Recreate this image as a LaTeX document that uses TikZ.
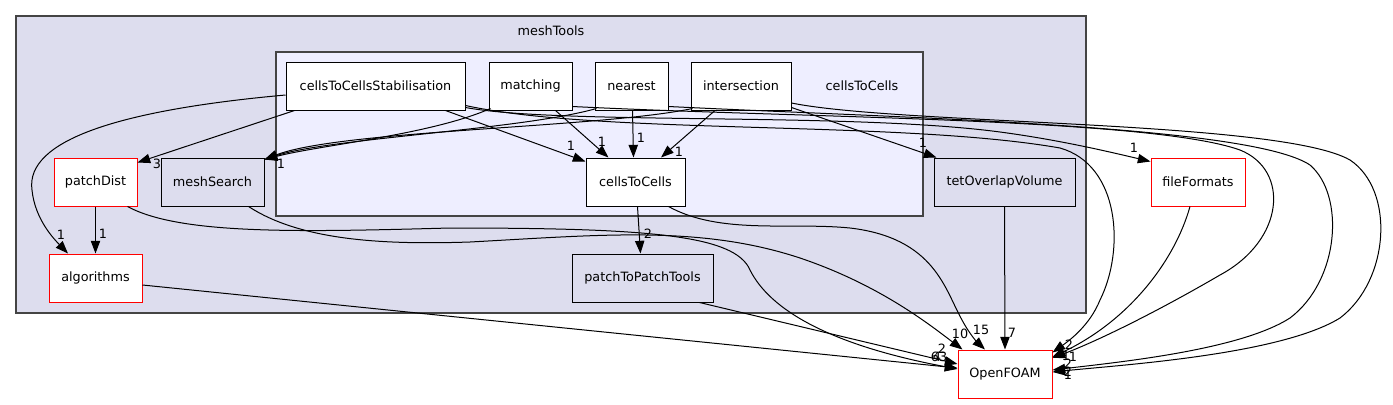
\documentclass[tikz,border=0pt]{standalone}
\usepackage{fontspec}
\setmainfont{DejaVu Sans}
\usetikzlibrary{arrows.meta,calc}
\definecolor{clustercolor}{HTML}{DDDDEE}
\definecolor{subcolor}{HTML}{EEEEFF}
\definecolor{framecolor}{HTML}{444444}
\definecolor{extcolor}{HTML}{FF0000}
\newcommand{\dirfont}{\fontsize{9.6}{11}\selectfont}
\tikzset{
  clusterbox/.style={draw=framecolor, line width=0.9pt},
  dirbox/.style={draw=black, fill=white, line width=0.75pt, minimum height=36pt,
    minimum width=#1*0.75pt, inner sep=0pt, font=\dirfont},
  greybox/.style={dirbox=#1, fill=clustercolor},
  redbox/.style={dirbox=#1, draw=extcolor},
  depln/.style={-{Triangle[length=9.5pt,width=7pt]}, line width=0.75pt},
  cntlbl/.style={font=\dirfont, inner sep=0pt},
}

\begin{document}
\begin{tikzpicture}[x=0.75pt, y=-0.75pt]
    \useasboundingbox (0,0) rectangle (1393,404);
    % clusters
    \draw[clusterbox, fill=clustercolor] (16,16) rectangle (1086,313);
    \node[font=\dirfont] (meshtoolslbl) at (551,31) {meshTools};
    \draw[clusterbox, fill=subcolor] (276,52) rectangle (923,216);
    \node[font=\dirfont] (subdirlbl) at (862,86) {cellsToCells};
    % directories
    \node[dirbox=179] (cts) at (375.5,86) {cellsToCellsStabilisation};
    \node[dirbox=83] (mt) at (530.5,86) {matching};
    \node[dirbox=73] (nr) at (631.5,86) {nearest};
    \node[dirbox=100] (is) at (741,86) {intersection};
    \node[dirbox=99] (ctc) at (635.5,182) {cellsToCells};
    \node[redbox=83] (pd) at (95.5,182) {patchDist};
    \node[greybox=103] (ms) at (212.5,182) {meshSearch};
    \node[greybox=141] (to) at (1004.5,182) {tetOverlapVolume};
    \node[redbox=94] (ff) at (1198,182) {fileFormats};
    \node[redbox=93] (alg) at (95.5,278) {algorithms};
    \node[greybox=141] (ptp) at (642.5,278) {patchToPatchTools};
    \node[redbox=94] (of) at (1005,374) {OpenFOAM};
    % cellsToCellsStabilisation
    \draw[depln] ($(cts.west)+(0,9)$) .. controls (120,110) and (25,140) .. (32,190)
      .. controls (35,220) and (55,240) .. ($(alg.north)+(-27.5,0)$);
    \draw[depln] ($(cts.south west)+(9,0)$) -- ($(pd.north east)+(0,5)$);
    \draw[depln] ($(cts.south)+(70,0)$) -- ($(ctc.north west)+(0,4)$);
    \draw[depln] ($(cts.south east)+(0,-3)$) .. controls (560,125) and (850,112) .. (1000,132)
      .. controls (1060,140) and (1110,152) .. ($(ff.north west)+(0,4)$);
    \draw[depln] ($(cts.south east)+(0,-5)$) .. controls (600,135) and (900,120) .. (1060,148)
      .. controls (1120,165) and (1125,250) .. (1100,300)
      .. controls (1090,325) and (1070,340) .. ($(of.north east)+(0,3)$);
    % matching
    \draw[depln] ($(mt.south west)+(2,-2)$) .. controls (430,135) and (320,145) .. ($(ms.north east)+(0,2)$);
    \draw[depln] ($(mt.south)+(25,0)$) -- ($(ctc.north)+(-27,0)$);
    \draw[depln] ($(mt.south east)+(0,-4)$) .. controls (800,118) and (1150,118) .. (1240,150)
      .. controls (1290,170) and (1285,240) .. (1220,275)
      .. controls (1160,310) and (1100,340) .. ($(of.east)+(0,-16)$);
    % nearest
    \draw[depln] ($(nr.south west)+(2,-2)$) .. controls (520,130) and (330,138) .. ($(ms.north east)+(0,2)$);
    \draw[depln] ($(nr.south)+(1,0)$) -- ($(ctc.north)+(-2,0)$);
    \draw[depln] ($(nr.south east)+(0,-4)$) .. controls (900,118) and (1250,125) .. (1310,165)
      .. controls (1345,195) and (1340,280) .. (1290,318)
      .. controls (1240,350) and (1120,362) .. ($(of.east)+(0,-4)$);
    % intersection
    \draw[depln] ($(is.south west)+(2,-2)$) .. controls (600,128) and (340,130) .. ($(ms.north east)+(0,2)$);
    \draw[depln] ($(is.south)+(-26,0)$) -- ($(ctc.north)+(25.5,0)$);
    \draw[depln] ($(is.south east)+(0,-3)$) -- ($(to.north west)+(3,0)$);
    \draw[depln] ($(is.east)+(0,17)$) .. controls (900,125) and (1280,120) .. (1350,160)
      .. controls (1395,190) and (1390,280) .. (1340,318)
      .. controls (1280,355) and (1120,365) .. ($(of.east)+(0,-2)$);
    % others
    \draw[depln] (pd.south) -- (alg.north);
    \draw[depln] ($(pd.south east)+(-10,0)$) .. controls (180,235) and (300,232) .. (450,228)
      .. controls (650,228) and (735,235) .. (750,270)
      .. controls (770,310) and (830,345) .. ($(of.west)+(0,-5)$);
    \draw[depln] ($(ms.south east)+(-16,0)$) .. controls (300,240) and (380,245) .. (470,242)
      .. controls (600,235) and (700,225) .. (800,258)
      .. controls (880,285) and (930,325) .. ($(of.north west)+(5,0)$);
    \draw[depln] ($(ctc.south)+(2,0)$) -- ($(ptp.north)+(-2,0)$);
    \draw[depln] ($(ctc.south east)+(-17,0)$) .. controls (720,235) and (790,222) .. (850,228)
      .. controls (935,238) and (945,290) .. (962,320)
      .. controls (970,335) and (978,343) .. ($(of.north)+(-20,0)$);
    \draw[depln] (to.south) -- (of.north);
    \draw[depln] ($(ff.south)+(-8,0)$) .. controls (1175,260) and (1130,320) .. ($(of.east)+(0,-17)$);
    \draw[depln] ($(alg.east)+(0,7)$) -- ($(of.west)+(0,-6)$);
    \draw[depln] ($(ptp.south east)+(-14,0)$) -- ($(of.west)+(0,-10)$);
    % counts
    \node[cntlbl] (l1) at (61,235) {1};
    \node[cntlbl] (l2) at (157,164) {3};
    \node[cntlbl] (l3) at (571,146) {1};
    \node[cntlbl] (l4) at (1134,148) {1};
    \node[cntlbl] (l5) at (281,164) {1};
    \node[cntlbl] (l6) at (602,142) {1};
    \node[cntlbl] (l7) at (641,138) {1};
    \node[cntlbl] (l8) at (679,152) {1};
    \node[cntlbl] (l9) at (923,143) {1};
    \node[cntlbl] (l10) at (103,234) {1};
    \node[cntlbl] (l11) at (648,234) {2};
    \node[cntlbl] (l12) at (960,334) {10};
    \node[cntlbl] (l13) at (981,330) {15};
    \node[cntlbl] (l14) at (1012,333) {7};
    \node[cntlbl] (l15) at (942,349) {2};
    \node[cntlbl] (l16) at (939,357) {63};
    \node[cntlbl] (l17) at (937,357) {4};
    \node[cntlbl] (l18) at (1069,345) {2};
    \node[cntlbl] (l19) at (1066,356) {1};
    \node[cntlbl] (l20) at (1073,357) {1};
    \node[cntlbl] (l21) at (1068,364) {2};
    \node[cntlbl] (l22) at (1068,372) {2};
    \node[cntlbl] (l23) at (1068,375) {1};
\end{tikzpicture}
\end{document}
